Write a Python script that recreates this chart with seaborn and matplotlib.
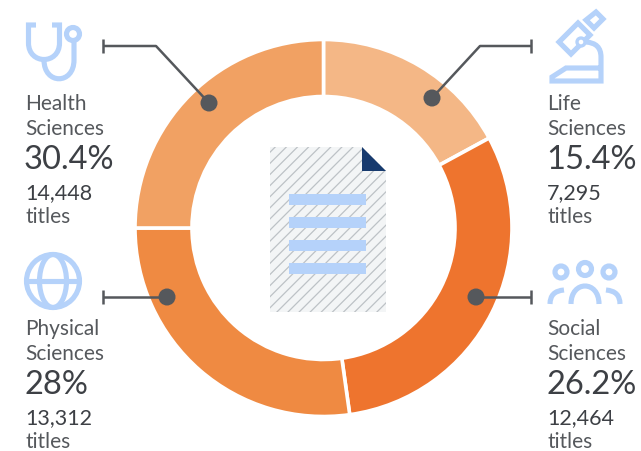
import matplotlib
matplotlib.use('Agg')
import matplotlib.pyplot as plt
import seaborn as sns
from matplotlib.patches import Polygon, Rectangle, Circle, Ellipse, PathPatch
from matplotlib.path import Path

# Data, clockwise from 12 o'clock
categories = ['Life\nSciences', 'Social\nSciences', 'Physical\nSciences', 'Health\nSciences']
shares = ['15.4%', '26.2%', '28%', '30.4%']
titles = ['7,295', '12,464', '13,312', '14,448']
# ring sizes as drawn in the picture (degrees), they differ from the printed shares
arc_sizes = [61.5, 110.5, 98, 90]
ring_colors = ['#F4B786', '#EE742E', '#EF8A42', '#F1A163']

sns.set_theme(style='white')
plt.rcParams['font.family'] = ['Lato', 'DejaVu Sans']
plt.rcParams['hatch.linewidth'] = 0.9

GREY = '#55585C'
DARK = '#3D4045'
BLUE = '#B5D2FA'
ICON_LW = 3.7

fig = plt.figure(figsize=(6.41, 4.52), dpi=100)
ax = fig.add_axes([0, 0, 1, 1])

# the axes runs in picture pixels, y goes down
ax.pie(arc_sizes, colors=sns.color_palette(ring_colors), center=(323.5, 229), radius=188.5,
       startangle=270, counterclock=True, frame=True,
       wedgeprops=dict(width=57, edgecolor='white', linewidth=2.6))
ax.set_xlim(0, 641)
ax.set_ylim(452, 0)
ax.set_aspect('equal')
ax.axis('off')

# document in the middle
page = Polygon([(270, 148), (362, 148), (386, 172), (386, 313), (270, 313)],
               facecolor='#F3F5F6', edgecolor='#BDC2C6', hatch='///', linewidth=0)
ax.add_patch(page)
ax.add_patch(Polygon([(362, 148), (386, 172), (362, 172)], facecolor='#173A6E', edgecolor='none'))
for y in [195, 218, 241, 264]:
    ax.add_patch(Rectangle((289, y), 77, 11, facecolor=BLUE, edgecolor='none'))

# callouts: (tick x, tick y, elbow x or None, dot x, dot y)
callouts = [(531, 47, 480, 432, 99), (531, 298, None, 476, 298),
            (103, 298, None, 167, 298), (103, 47, 156, 209, 104)]
for tx, ty, ex, dx, dy in callouts:
    xs = [tx, ex, dx] if ex else [tx, dx]
    ys = [ty, ty, dy] if ex else [ty, dy]
    ax.plot(xs, ys, color=GREY, lw=1.8, solid_capstyle='butt')
    ax.plot([tx, tx], [ty - 7, ty + 7], color=GREY, lw=1.8, solid_capstyle='butt')
    ax.add_patch(Circle((dx, dy), 8.5, facecolor=GREY, edgecolor='none', zorder=5))

# text blocks
text_x = [547, 547, 25, 25]
text_base = [110, 335, 335, 110]
for cat, share, num, x, y in zip(categories, shares, titles, text_x, text_base):
    first, second = cat.split('\n')
    ax.text(x, y, first, fontsize=15, color=GREY)
    ax.text(x, y + 25, second, fontsize=15, color=GREY)
    ax.text(x - 1, y + 59, share, fontsize=23.5, color=DARK)
    ax.text(x, y + 89, num, fontsize=15.5, color=DARK)
    ax.text(x, y + 113, 'titles', fontsize=15, color=GREY)


def icon_line(xs, ys):
    ax.plot(xs, ys, color=BLUE, lw=ICON_LW, solid_capstyle='butt', solid_joinstyle='round')


def icon_curve(verts, codes):
    ax.add_patch(PathPatch(Path(verts, codes), facecolor='none', edgecolor=BLUE, lw=ICON_LW, capstyle='butt'))


M, L, C3 = Path.MOVETO, Path.LINETO, Path.CURVE3
C4 = Path.CURVE4

# stethoscope
icon_curve([(36, 26), (28.5, 26), (28.5, 44), (28.5, 66), (59.5, 66), (59.5, 44), (59.5, 26), (52, 26)],
           [M, L, L, C4, C4, C4, L, L])
icon_curve([(44, 61), (44, 86), (74, 86), (74, 61), (74, 43)], [M, C4, C4, C4, L])
ax.add_patch(Circle((73, 35), 6.5, facecolor='none', edgecolor=BLUE, lw=ICON_LW))

# microscope
ax.add_patch(Polygon([(559, 43), (571, 55), (590, 36), (578, 24)], facecolor='none', edgecolor=BLUE, lw=ICON_LW))
ax.add_patch(Polygon([(586, 21), (596, 13), (603, 20), (594, 29)], facecolor='none', edgecolor=BLUE, lw=ICON_LW))
ax.add_patch(Circle((581, 43), 4, facecolor='white', edgecolor=BLUE, lw=2.4, zorder=3))
icon_curve([(586, 43), (601, 44), (601, 58), (601, 82), (552, 82), (552, 78), (566, 69), (601, 69)],
           [M, C3, C3, L, L, L, L, L])

# people
for cx, cy, r in [(561, 273, 6), (585, 270, 6.5), (609, 273, 6)]:
    ax.add_patch(Circle((cx, cy), r, facecolor='none', edgecolor=BLUE, lw=ICON_LW))
icon_curve([(571, 305), (571, 281), (599, 281), (599, 305)], [M, C4, C4, C4])
icon_curve([(550, 305), (550, 292), (564, 291)], [M, C3, C3])
icon_curve([(620, 305), (620, 292), (606, 291)], [M, C3, C3])

# globe
ax.add_patch(Circle((53, 282), 26.5, facecolor='none', edgecolor=BLUE, lw=ICON_LW))
ax.add_patch(Ellipse((53, 282), 27, 53, facecolor='none', edgecolor=BLUE, lw=ICON_LW))
icon_line([27, 80], [282, 282])

plt.savefig('out.png', dpi=100)
